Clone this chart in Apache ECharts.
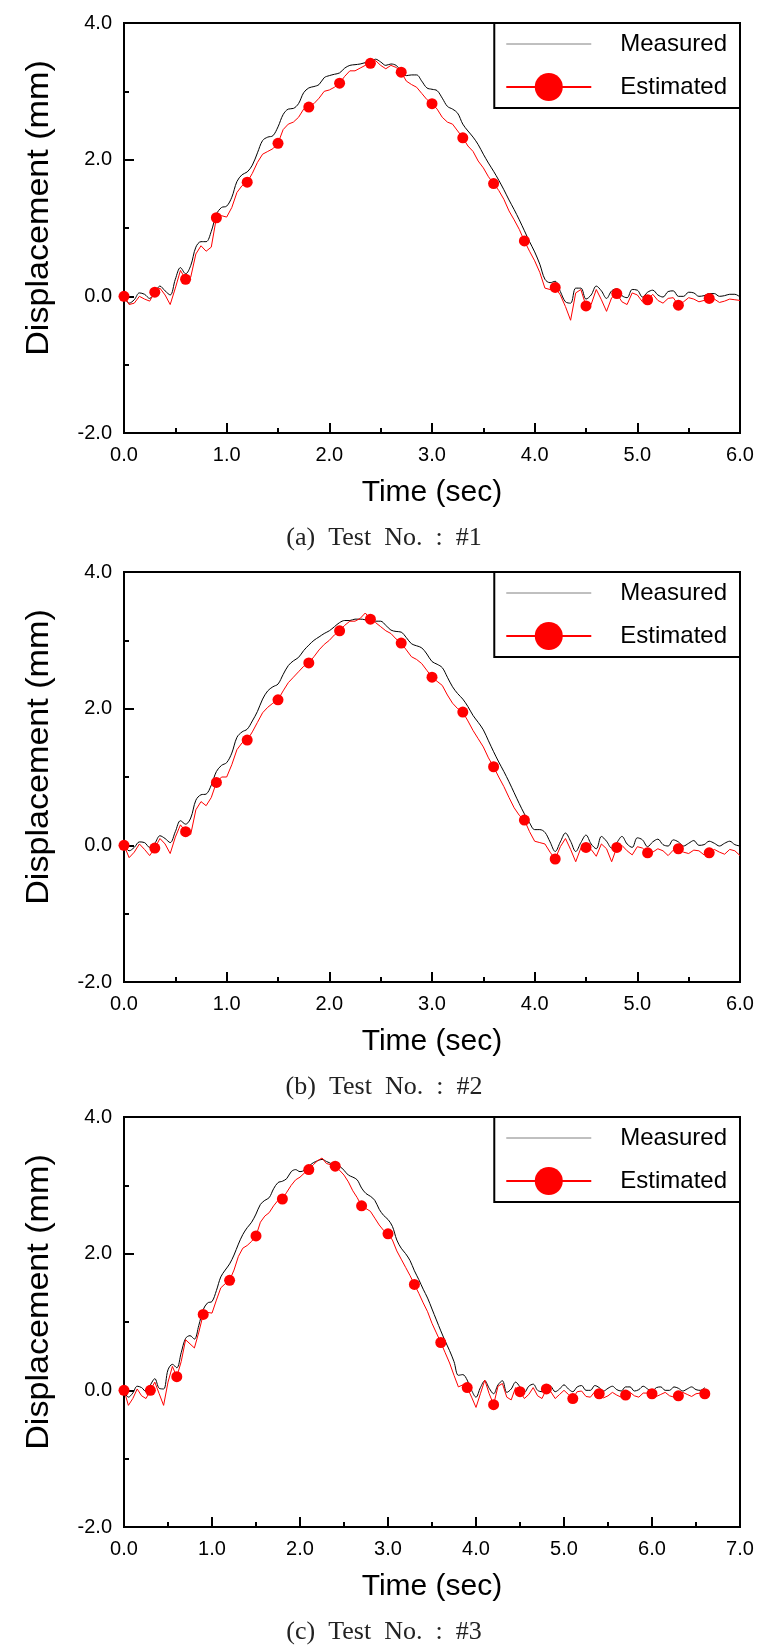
<!DOCTYPE html>
<html><head><meta charset="utf-8">
<script src="https://cdn.jsdelivr.net/npm/echarts@6/dist/echarts.min.js"></script>
<style>html,body{margin:0;padding:0;background:#fff}#c{width:771px;height:1645px}</style>
</head><body><div id="c"></div>
<script>
// ---------- data ----------
const T_STEP = 0.05;
const MARKER_EVERY = 6;              // a marker every 0.3 s on the estimated trace
const MARKER_COUNT = [20, 20, 23];
const SERIES_NAMES = ['Measured', 'Estimated'];
const X_AXIS_TITLE = 'Time (sec)';
const Y_AXIS_TITLE = 'Displacement (mm)';
const CAPTIONS = ['(a)  Test  No.  :  #1', '(b)  Test  No.  :  #2', '(c)  Test  No.  :  #3'];
const X_MAX = [6, 6, 7];
const Y_MIN = -2, Y_MAX = 4;

const measured1 = [
  0.00,-0.10,-0.05,0.05,0.03,-0.03,0.05,0.15,0.08,0.02,
  0.25,0.42,0.33,0.45,0.72,0.80,0.80,0.95,1.20,1.30,
  1.32,1.45,1.68,1.78,1.82,1.92,2.10,2.28,2.33,2.35,
  2.48,2.66,2.74,2.75,2.82,2.98,3.05,3.07,3.10,3.20,
  3.23,3.25,3.27,3.34,3.38,3.39,3.40,3.42,3.43,3.47,
  3.43,3.38,3.40,3.38,3.30,3.23,3.24,3.24,3.15,3.05,
  3.03,3.01,2.90,2.78,2.74,2.68,2.52,2.42,2.33,2.22,
  2.08,1.95,1.83,1.70,1.56,1.41,1.27,1.12,0.96,0.80,
  0.65,0.47,0.25,0.20,0.22,0.07,-0.08,-0.10,0.12,0.12,
  -0.04,0.02,0.15,0.08,-0.03,0.08,0.11,0.01,-0.02,0.10,
  0.09,-0.01,0.06,0.09,0.02,-0.01,0.07,0.08,0.00,0.00,
  0.06,0.05,0.00,0.01,0.04,0.04,0.00,0.01,0.03,0.03,
  -0.01
];
const estimated1 = [
  0.00,-0.12,-0.10,0.00,-0.04,-0.07,0.06,0.12,0.02,-0.12,
  0.12,0.38,0.25,0.28,0.62,0.74,0.66,0.72,1.15,1.18,
  1.16,1.30,1.52,1.62,1.67,1.80,1.96,2.08,2.12,2.16,
  2.24,2.44,2.52,2.55,2.62,2.74,2.77,2.82,2.90,3.00,
  3.02,3.06,3.12,3.22,3.30,3.30,3.34,3.38,3.41,3.45,
  3.38,3.33,3.38,3.35,3.28,3.15,3.10,3.06,2.97,2.88,
  2.82,2.74,2.62,2.55,2.52,2.42,2.32,2.20,2.12,1.98,
  1.88,1.75,1.65,1.55,1.42,1.25,1.12,0.98,0.81,0.66,
  0.52,0.35,0.12,0.10,0.13,0.02,-0.15,-0.35,0.05,0.10,
  -0.14,-0.12,0.10,-0.05,-0.22,-0.02,0.04,-0.08,-0.12,0.05,
  0.02,-0.08,-0.05,0.03,-0.06,-0.10,-0.03,-0.02,-0.13,-0.08,
  -0.02,-0.04,-0.08,-0.06,-0.03,-0.04,-0.09,-0.07,-0.04,-0.05,
  -0.06
];
const measured2 = [
  0.00,-0.08,-0.03,0.05,0.04,-0.03,0.03,0.14,0.10,0.04,
  0.20,0.36,0.31,0.40,0.66,0.74,0.75,0.88,1.08,1.17,
  1.21,1.35,1.58,1.66,1.70,1.82,1.96,2.14,2.26,2.32,
  2.36,2.50,2.63,2.70,2.75,2.85,2.93,3.00,3.05,3.10,
  3.14,3.20,3.26,3.29,3.29,3.31,3.31,3.30,3.26,3.28,
  3.28,3.22,3.15,3.13,3.12,3.04,2.95,2.92,2.89,2.80,
  2.69,2.65,2.60,2.46,2.32,2.22,2.14,2.03,1.90,1.80,
  1.69,1.53,1.37,1.22,1.08,0.93,0.77,0.61,0.46,0.33,
  0.23,0.23,0.19,0.05,-0.09,0.05,0.18,0.06,-0.09,0.04,
  0.15,0.02,-0.05,0.13,0.06,-0.04,0.04,0.13,0.02,-0.03,
  0.11,0.08,-0.02,0.05,0.09,0.01,-0.01,0.08,0.05,-0.01,
  0.03,0.07,0.00,0.01,0.06,0.03,-0.01,0.03,0.06,0.01,
  -0.01
];
const estimated2 = [
  0.00,-0.18,-0.10,0.02,-0.06,-0.15,-0.04,0.10,0.02,-0.12,
  0.12,0.30,0.20,0.16,0.52,0.64,0.58,0.70,0.92,1.00,
  1.00,1.18,1.40,1.50,1.54,1.66,1.80,1.94,2.02,2.08,
  2.13,2.26,2.38,2.46,2.54,2.62,2.67,2.76,2.86,2.94,
  3.00,3.08,3.14,3.22,3.28,3.28,3.32,3.40,3.31,3.26,
  3.20,3.14,3.10,3.02,2.96,2.86,2.76,2.72,2.66,2.56,
  2.46,2.40,2.34,2.20,2.08,2.00,1.95,1.82,1.68,1.56,
  1.44,1.28,1.15,1.00,0.86,0.70,0.55,0.44,0.37,0.20,
  0.06,0.04,0.02,-0.10,-0.20,-0.02,0.10,-0.06,-0.24,-0.04,
  -0.03,-0.06,-0.16,0.02,-0.05,-0.24,-0.03,0.00,-0.08,-0.14,
  -0.02,-0.04,-0.11,-0.10,-0.05,-0.08,-0.15,-0.07,-0.05,-0.10,
  -0.12,-0.07,-0.08,-0.14,-0.11,-0.06,-0.10,-0.13,-0.06,-0.08,
  -0.15
];
const measured3 = [
  0.00,-0.10,-0.04,0.06,0.04,-0.02,0.08,0.17,0.03,0.02,
  0.30,0.38,0.33,0.55,0.76,0.80,0.75,0.95,1.18,1.28,
  1.30,1.46,1.66,1.76,1.85,1.98,2.14,2.28,2.38,2.46,
  2.58,2.72,2.78,2.82,2.95,3.04,3.06,3.10,3.20,3.23,
  3.20,3.22,3.28,3.33,3.36,3.38,3.35,3.32,3.30,3.28,
  3.22,3.15,3.12,3.08,2.96,2.88,2.84,2.78,2.65,2.56,
  2.50,2.40,2.20,2.08,2.00,1.90,1.75,1.62,1.48,1.35,
  1.19,1.03,0.87,0.72,0.58,0.42,0.22,0.23,0.15,0.00,
  -0.10,0.04,0.14,0.03,-0.05,0.08,0.14,-0.03,0.02,0.12,
  0.05,-0.03,0.06,0.09,0.00,-0.02,0.08,0.06,-0.02,0.02,
  0.08,0.02,-0.02,0.05,0.07,0.00,0.00,0.07,0.04,-0.01,
  0.03,0.06,0.01,-0.01,0.05,0.05,-0.01,0.01,0.06,0.02,
  -0.01,0.04,0.05,0.00,0.00,0.05,0.03,-0.01,0.02,0.05,
  0.01,0.00,0.04
];
const estimated3 = [
  0.00,-0.22,-0.12,0.02,-0.08,-0.12,0.00,0.12,-0.05,-0.22,
  0.12,0.35,0.20,0.42,0.74,0.68,0.62,0.85,1.11,1.14,
  1.13,1.32,1.50,1.56,1.61,1.76,1.96,2.08,2.12,2.18,
  2.26,2.46,2.55,2.60,2.70,2.78,2.80,2.90,3.00,3.08,
  3.12,3.18,3.23,3.30,3.36,3.40,3.32,3.30,3.28,3.22,
  3.15,3.05,2.92,2.82,2.70,2.66,2.62,2.52,2.42,2.34,
  2.29,2.20,2.04,1.92,1.80,1.68,1.55,1.42,1.28,1.15,
  0.98,0.84,0.70,0.55,0.40,0.22,0.05,0.08,0.04,-0.10,
  -0.25,-0.05,0.15,-0.05,-0.21,0.06,0.10,-0.10,-0.14,0.04,
  -0.02,-0.12,-0.06,0.04,-0.08,-0.12,0.02,-0.02,-0.12,-0.06,
  0.00,-0.06,-0.12,-0.02,-0.01,-0.09,-0.10,-0.02,-0.05,-0.11,
  -0.08,-0.03,-0.07,-0.10,-0.07,-0.03,-0.08,-0.10,-0.04,-0.04,
  -0.05,-0.09,-0.06,-0.03,-0.08,-0.10,-0.08,-0.03,-0.06,-0.09,
  -0.05,-0.04,-0.05
];

const MEASURED = [measured1, measured2, measured3];
const ESTIMATED = [estimated1, estimated2, estimated3];

// ---------- layout ----------
const GRID_LEFT = 124, GRID_W = 616, GRID_H = 410;
const GRID_TOPS = [23, 572, 1117];
const FONT = '"Liberation Sans", Arial, sans-serif';
const SERIF = '"Liberation Serif", "DejaVu Serif", serif';

function pairs(vals) { return vals.map((v, i) => [+(i * T_STEP).toFixed(2), v]); }

const grid = [], xAxis = [], yAxis = [], series = [], legend = [], graphic = [];
GRID_TOPS.forEach((top, i) => {
  grid.push({ left: GRID_LEFT, top: top, width: GRID_W, height: GRID_H, show: true,
    borderColor: '#000', borderWidth: 2, backgroundColor: '#fff', containLabel: false, outerBoundsMode: 'none' });
  const tickStyle = { color: '#000', width: 2 };
  xAxis.push({ gridIndex: i, type: 'value', min: 0, max: X_MAX[i], interval: 1,
    axisLine: { show: true, onZero: false, lineStyle: tickStyle },
    axisTick: { show: true, inside: true, length: 10, lineStyle: tickStyle },
    minorTick: { show: true, splitNumber: 2, length: 5, lineStyle: tickStyle },
    splitLine: { show: false }, minorSplitLine: { show: false },
    axisLabel: { margin: 12, fontSize: 20, color: '#000', fontFamily: FONT, formatter: v => v.toFixed(1) },
    name: X_AXIS_TITLE, nameLocation: 'middle', nameGap: 45,
    nameTextStyle: { fontSize: 30, color: '#000', fontFamily: FONT } });
  yAxis.push({ gridIndex: i, type: 'value', min: Y_MIN, max: Y_MAX, interval: 2,
    axisLine: { show: true, onZero: false, lineStyle: tickStyle },
    axisTick: { show: true, inside: true, length: 10, lineStyle: tickStyle },
    minorTick: { show: true, splitNumber: 2, length: 5, lineStyle: tickStyle },
    splitLine: { show: false }, minorSplitLine: { show: false },
    axisLabel: { margin: 12, fontSize: 20, color: '#000', fontFamily: FONT, formatter: v => v.toFixed(1) } });
  series.push({ type: 'line', name: SERIES_NAMES[0], xAxisIndex: i, yAxisIndex: i,
    data: pairs(MEASURED[i]), symbol: 'none', smooth: 0.35,
    lineStyle: { color: '#000', width: 1 }, itemStyle: { color: '#000' }, z: 2 });
  const nMark = MARKER_COUNT[i];
  series.push({ type: 'line', name: SERIES_NAMES[1], xAxisIndex: i, yAxisIndex: i,
    data: pairs(ESTIMATED[i]), symbol: 'circle', showSymbol: true, showAllSymbol: true,
    symbolSize: (v, p) => (p.dataIndex % MARKER_EVERY === 0 && p.dataIndex / MARKER_EVERY < nMark) ? 11 : 0,
    lineStyle: { color: '#ff0000', width: 1 }, itemStyle: { color: '#ff0000' }, z: 3 });
  legend.push({ orient: 'vertical', right: 31, top: top, selectedMode: false,
    backgroundColor: '#fff', borderColor: '#000', borderWidth: 2, borderRadius: 0,
    padding: [7, 13, 7, 11], itemWidth: 85, itemHeight: 35, itemGap: 15,
    textStyle: { fontSize: 24, color: '#000', fontFamily: FONT, padding: [0, 0, 0, 24] },
    data: [{ name: SERIES_NAMES[0], lineStyle: { color: '#808080', width: 1 },
             itemStyle: { color: 'rgba(0,0,0,0)', borderWidth: 0, opacity: 0 } },
           { name: SERIES_NAMES[1] }] });
  // y-axis title (slightly above the plot centre, stretched along its length as in the source)
  graphic.push({ type: 'text', x: 39, y: top + GRID_H / 2 - 20, rotation: Math.PI / 2, scaleX: 1.10,
    style: { text: Y_AXIS_TITLE, font: '31px ' + FONT, fill: '#000', align: 'center', verticalAlign: 'middle' } });
  graphic.push({ type: 'text', x: 384, y: top + GRID_H + 105,
    style: { text: CAPTIONS[i], font: '26px ' + SERIF, fill: '#222', align: 'center', verticalAlign: 'middle' } });
});

const chart = echarts.init(document.getElementById('c'), null, { renderer: 'canvas' });
chart.setOption({ animation: false, backgroundColor: '#fff', grid, xAxis, yAxis, series, legend, graphic });
</script></body></html>
